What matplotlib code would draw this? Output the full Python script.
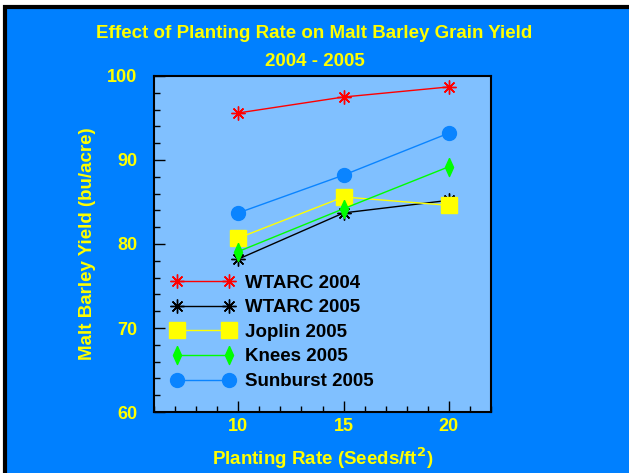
import numpy as np
import matplotlib.pyplot as plt
from matplotlib.patches import Rectangle

# valores
rates = [10, 15, 20]
wtarc_2004 = [95.6, 97.5, 98.7]
wtarc_2005 = [78.2, 83.7, 85.2]
joplin_2005 = [80.7, 85.6, 84.6]
knees_2005 = [79.1, 84.2, 89.2]
sunburst_2005 = [83.7, 88.2, 93.2]

plt.rcParams['font.family'] = ['Liberation Sans', 'DejaVu Sans']
plt.rcParams['font.weight'] = 'bold'

fig = plt.figure(figsize=(6.29, 4.73), dpi=100, facecolor='white')
W, H = 629, 473
# marco azul con borde negro
fig.patches.append(Rectangle((5 / W, -0.1), 1.2, (H - 7) / H + 0.1, transform=fig.transFigure,
                             facecolor='#0080ff', edgecolor='black', linewidth=3, zorder=-5))

ax = fig.add_axes([154 / W, 1 - 412 / H, (491 - 154) / W, (412 - 76) / H])
ax.set_facecolor('#80c0ff')

star = (8, 2, 0)
rombo = [(0, 1), (0.45, 0), (0, -1), (-0.45, 0), (0, 1)]
ax.plot(rates, wtarc_2004, color='#ff0000', lw=1, marker=star, ms=10, mew=1, label='WTARC 2004')
ax.plot(rates, wtarc_2005, color='black', lw=1, marker=star, ms=10, mew=1, label='WTARC 2005')
ax.plot(rates, joplin_2005, color='#ffff00', lw=1, marker='s', ms=11, label='Joplin 2005')
ax.plot(rates, knees_2005, color='#00ff00', lw=1, marker=rombo, ms=13, label='Knees 2005')
ax.plot(rates, sunburst_2005, color='#0a84ff', lw=1, marker='o', ms=10, label='Sunburst 2005')

ax.set_xlim(6, 22)
ax.set_ylim(60, 100)
ax.set_xticks([10, 15, 20])
ax.set_xticks(np.arange(6, 23, 1), minor=True)
ax.set_yticks([60, 70, 80, 90, 100])
ax.set_yticks(np.arange(60, 101, 2), minor=True)
ax.tick_params(which='major', direction='in', length=8, width=1, labelsize=13,
               labelcolor='#ffff00')
ax.tick_params(axis='y', which='major', pad=12)
ax.tick_params(axis='x', which='major', pad=4)
ax.tick_params(which='minor', direction='in', length=4, width=1)
for s in ax.spines.values():
    s.set_linewidth(1.5)

ax.set_xlabel('Planting Rate (Seeds/ft$^\\mathbf{2}$)', color='#ffff00', fontsize=13.5,
              fontweight='bold', labelpad=8)
ax.set_ylabel('Malt Barley Yield (bu/acre)', color='#ffff00', fontsize=13.5,
              fontweight='bold', labelpad=8)

fig.text(0.5, 1 - 33 / H, 'Effect of Planting Rate on Malt Barley Grain Yield', color='#ffff00',
         fontsize=13.5, fontweight='bold', ha='center', va='center')
fig.text(0.5, 1 - 62 / H, '2004 - 2005', color='#ffff00',
         fontsize=13.5, fontweight='bold', ha='center', va='center')

leg = ax.legend(loc='lower left', bbox_to_anchor=(0.0, 0.015), frameon=False,
                prop={'weight': 'bold', 'size': 13.5}, handlelength=3.4,
                labelspacing=0.4, handletextpad=0.55, numpoints=2)

fig.savefig('out.png', dpi=100, facecolor='white')
